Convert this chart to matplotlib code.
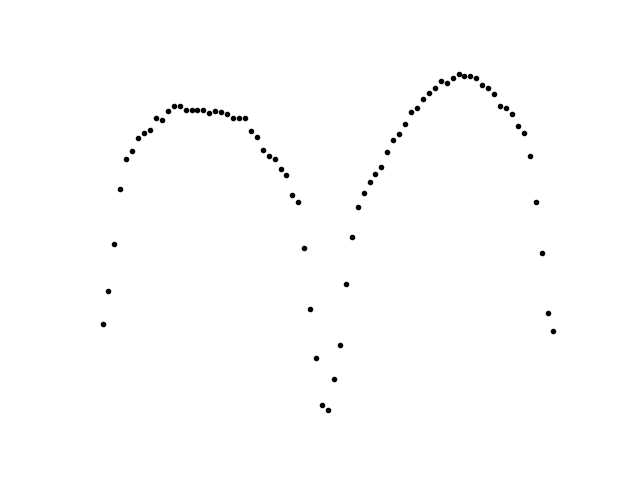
import numpy as np
import matplotlib
matplotlib.use("Agg")
import matplotlib.pyplot as plt

# y values (arbitrary units, evenly spaced samples)
y_vals = [156, 189, 236, 291, 321, 329, 342, 347, 350, 362,
          360, 369, 374, 374, 370, 370, 370, 370, 367, 369,
          368, 366, 362, 362, 362, 349, 343, 330, 324, 321,
          311, 305, 285, 278, 232, 171, 122, 75, 70, 101,
          135, 196, 243, 273, 287, 298, 306, 313, 328, 340,
          346, 356, 368, 372, 381, 387, 392, 399, 397, 402,
          406, 404, 404, 402, 395, 392, 386, 374, 372, 366,
          354, 347, 324, 278, 227, 167, 149]
x_vals = np.arange(len(y_vals))

fig, ax = plt.subplots(figsize=(6.4, 4.8), dpi=100)
ax.plot(x_vals, y_vals, ".", color="black")
ax.axis("off")
plt.savefig("out.png", dpi=100)
plt.close()
